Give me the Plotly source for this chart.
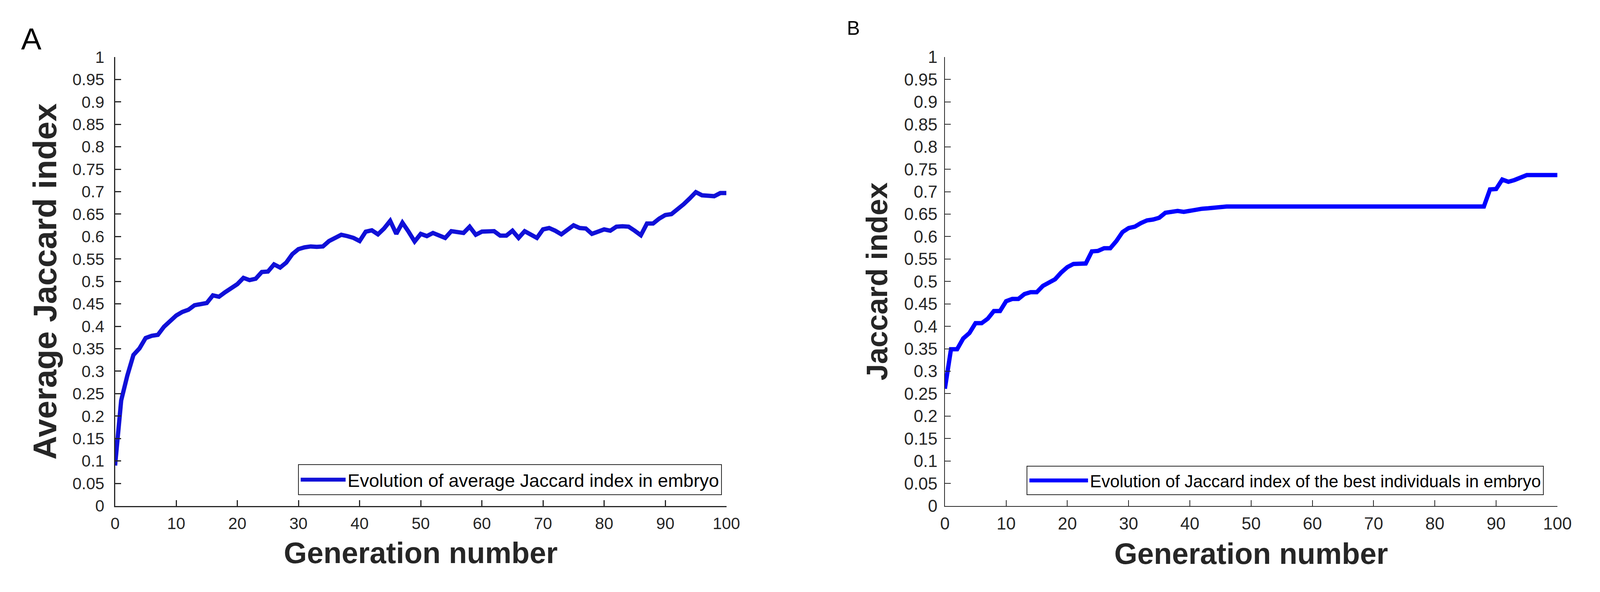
import plotly.graph_objects as go

generations = list(range(0, 101))

avg_jaccard = [
    0.090, 0.235, 0.290, 0.336, 0.351, 0.374, 0.379, 0.381, 0.399, 0.411,
    0.424, 0.432, 0.437, 0.447, 0.449, 0.452, 0.469, 0.466, 0.476, 0.485,
    0.494, 0.508, 0.503, 0.506, 0.521, 0.522, 0.538, 0.531, 0.542, 0.561,
    0.572, 0.576, 0.578, 0.577, 0.578, 0.590, 0.597, 0.604, 0.601, 0.597,
    0.590, 0.611, 0.614, 0.605, 0.618, 0.635, 0.606, 0.631, 0.611, 0.589,
    0.606, 0.601, 0.608, 0.603, 0.597, 0.612, 0.610, 0.608, 0.622, 0.604,
    0.611, 0.612, 0.612, 0.602, 0.602, 0.613, 0.597, 0.612, 0.605, 0.597,
    0.616, 0.619, 0.613, 0.605, 0.615, 0.625, 0.619, 0.618, 0.606, 0.612,
    0.616, 0.613, 0.622, 0.623, 0.622, 0.613, 0.603, 0.629, 0.629, 0.640,
    0.648, 0.650, 0.660, 0.672, 0.685, 0.699, 0.692, 0.692, 0.690, 0.697,
    0.697,
]

best_jaccard = [
    0.261, 0.349, 0.349, 0.373, 0.385, 0.407, 0.407, 0.417, 0.434, 0.434,
    0.456, 0.461, 0.461, 0.472, 0.476, 0.476, 0.490, 0.498, 0.505, 0.520,
    0.532, 0.539, 0.539, 0.540, 0.567, 0.568, 0.574, 0.574, 0.590, 0.610,
    0.619, 0.622, 0.630, 0.636, 0.638, 0.642, 0.653, 0.654, 0.657, 0.655,
    0.658, 0.661, 0.662, 0.663, 0.665, 0.667, 0.667, 0.667, 0.667, 0.667,
    0.667, 0.667, 0.667, 0.667, 0.667, 0.667, 0.667, 0.667, 0.667, 0.667,
    0.667, 0.667, 0.667, 0.667, 0.667, 0.667, 0.667, 0.667, 0.667, 0.667,
    0.667, 0.667, 0.667, 0.667, 0.667, 0.667, 0.667, 0.667, 0.667, 0.667,
    0.667, 0.667, 0.667, 0.667, 0.667, 0.667, 0.667, 0.667, 0.667, 0.705,
    0.706, 0.727, 0.722, 0.726, 0.732, 0.737, 0.737, 0.737, 0.737, 0.737,
    0.737,
]

y_tick_vals = [i * 0.05 for i in range(21)]
y_tick_text = ["0", "0.05", "0.1", "0.15", "0.2", "0.25", "0.3", "0.35", "0.4", "0.45",
               "0.5", "0.55", "0.6", "0.65", "0.7", "0.75", "0.8", "0.85", "0.9", "0.95", "1"]
x_tick_vals = list(range(0, 101, 10))

legend_a = "Evolution of average Jaccard index in embryo"
legend_b = "Evolution of Jaccard index of the best individuals in embryo"

FONT = "Liberation Sans, Arial, Helvetica, sans-serif"
AX = "#262626"

fig = go.Figure()
fig.add_trace(go.Scatter(x=generations, y=avg_jaccard, mode="lines", name=legend_a,
                         line=dict(color="#1010d8", width=11), xaxis="x", yaxis="y",
                         legend="legend"))
fig.add_trace(go.Scatter(x=generations, y=best_jaccard, mode="lines", name=legend_b,
                         line=dict(color="#0000ff", width=11), xaxis="x2", yaxis="y2",
                         legend="legend2"))

W, H = 4098, 1515
y_dom = [(H - 1312) / H, (H - 125) / H]


def xaxis(domain, anchor, lw, tickfs):
    return dict(domain=domain, anchor=anchor, range=[0, 100], tickvals=x_tick_vals,
                ticks="inside", ticklen=15, tickwidth=lw, tickcolor=AX,
                showline=True, linecolor=AX, linewidth=lw, mirror=False,
                showgrid=False, zeroline=False,
                tickfont=dict(family=FONT, size=tickfs, color=AX),
                ticklabelstandoff=6,
                title=dict(text="<b>Generation number</b>",
                           font=dict(family=FONT, size=76, color=AX), standoff=26))


def yaxis(domain, anchor, lw, tickfs, title, titlefs, standoff, lblgap):
    return dict(domain=domain, anchor=anchor, range=[0, 1], tickvals=y_tick_vals,
                ticktext=y_tick_text,
                ticks="inside", ticklen=15, tickwidth=lw, tickcolor=AX,
                showline=True, linecolor=AX, linewidth=lw, mirror=False,
                showgrid=False, zeroline=False,
                tickfont=dict(family=FONT, size=tickfs, color=AX),
                ticklabelstandoff=lblgap,
                title=dict(text="<b>" + title + "</b>",
                           font=dict(family=FONT, size=titlefs, color=AX), standoff=standoff))


fig.update_layout(
    width=W, height=H,
    margin=dict(l=0, r=0, t=0, b=0),
    paper_bgcolor="white", plot_bgcolor="white",
    font=dict(family=FONT, color=AX),
    showlegend=True,
    xaxis=xaxis([286 / W, 1870 / W], "y", 3, 42),
    yaxis=yaxis(y_dom, "x", 3, 42, "Average Jaccard index", 84, 14, 16),
    xaxis2=xaxis([2436 / W, 4023 / W], "y2", 2, 44),
    yaxis2=yaxis(y_dom, "x2", 2, 44, "Jaccard index", 76, 18, 8),
    legend=dict(x=1858 / W, y=(H - 1284) / H, xanchor="right", yanchor="bottom",
                bgcolor="white", bordercolor=AX, borderwidth=2,
                font=dict(family=FONT, size=47, color="black"), itemwidth=115),
    legend2=dict(x=3988 / W, y=(H - 1284) / H, xanchor="right", yanchor="bottom",
                 bgcolor="white", bordercolor=AX, borderwidth=2,
                 font=dict(family=FONT, size=44, color="black"), itemwidth=150),
    annotations=[
        dict(text="A", x=40 / W, y=1 - 30 / H, xref="paper", yref="paper",
             xanchor="left", yanchor="top", showarrow=False,
             font=dict(family=FONT, size=78, color="black")),
        dict(text="B", x=2180 / W, y=1 - 18 / H, xref="paper", yref="paper",
             xanchor="left", yanchor="top", showarrow=False,
             font=dict(family=FONT, size=50, color="black")),
    ],
)

fig.write_html("out.html", config={"displayModeBar": False},
               post_script="document.body.style.margin='0px';")
